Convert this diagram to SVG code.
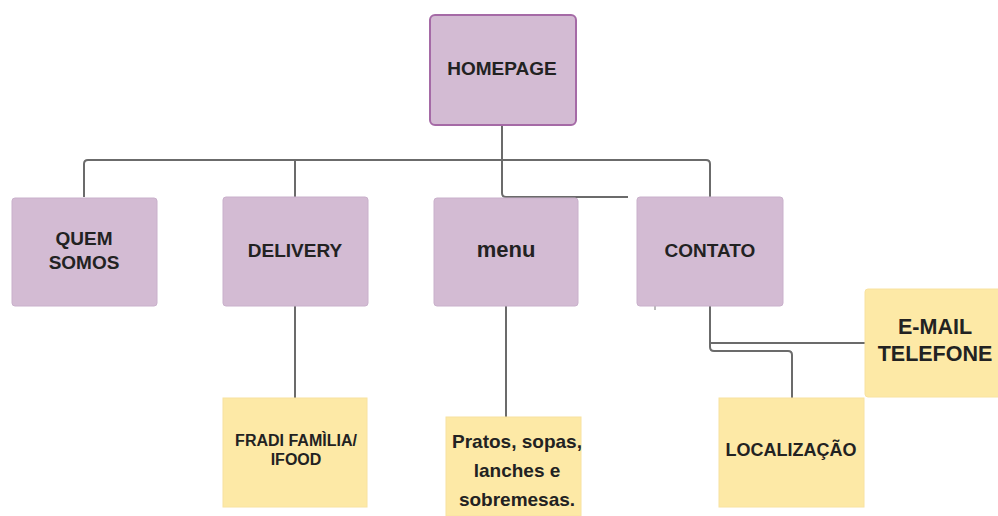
<svg xmlns="http://www.w3.org/2000/svg" width="998" height="516" viewBox="0 0 998 516">
<style>
.p{fill:#d3bbd3;stroke:#c9b0cb;stroke-width:1}
.h{fill:#d3bbd3;stroke:#a56aa6;stroke-width:2}
.y{fill:#fde9a6;stroke:#f8e2a0;stroke-width:1}
text{font-family:"Liberation Sans",Arial,sans-serif;font-weight:bold;fill:#222;text-anchor:middle}
.c{fill:none;stroke:#6b6b6b;stroke-width:2;stroke-linejoin:round}
</style>
<rect width="998" height="516" fill="#fff"/>
<g id="connectors">
<path class="c" d="M502,125 V160 M84,197 V164 Q84,160 88,160 H706 Q710,160 710,164 V197 M295,160 V197"/>
<path class="c" d="M502,160 V193 Q502,197 506,197 H628"/>
<path class="c" d="M295,306 V398"/>
<path class="c" d="M506,306 V417"/>
<path class="c" d="M710,306 V343 H865 M710,343 V347 Q710,351 714,351 H788 Q792,351 792,355 V398"/>
<path d="M655,306 V310" stroke="#777" stroke-width="1"/>
</g>
<g id="homepage"><rect class="h" x="430" y="15" width="146" height="110" rx="5"/><text x="502" y="75" font-size="19">HOMEPAGE</text></g>
<g id="quem-somos"><rect class="p" x="12" y="198" width="145" height="108" rx="3"/><text x="84" y="245" font-size="19">QUEM</text><text x="84" y="269" font-size="19">SOMOS</text></g>
<g id="delivery"><rect class="p" x="223" y="197" width="145" height="109" rx="3"/><text x="295" y="257" font-size="19">DELIVERY</text></g>
<g id="menu"><rect class="p" x="434" y="198" width="144" height="108" rx="3"/><text x="506" y="257" font-size="22">menu</text></g>
<g id="contato"><rect class="p" x="637" y="197" width="146" height="109" rx="3"/><text x="710" y="257" font-size="19">CONTATO</text></g>
<g id="fradi"><rect class="y" x="223" y="398" width="144" height="109"/><text x="296" y="446" font-size="16">FRADI FAMÌLIA/</text><text x="296" y="465" font-size="16">IFOOD</text></g>
<g id="pratos"><rect class="y" x="446" y="417" width="135" height="99"/><text x="517" y="448" font-size="19">Pratos, sopas,</text><text x="517" y="477" font-size="19">lanches e</text><text x="517" y="506" font-size="19">sobremesas.</text></g>
<g id="email"><rect class="y" x="865" y="289" width="140" height="108" rx="3"/><text x="935" y="334" font-size="21.5">E-MAIL</text><text x="935" y="361" font-size="21.5">TELEFONE</text></g>
<g id="localizacao"><rect class="y" x="719" y="398" width="145" height="109"/><text x="791" y="456" font-size="18">LOCALIZAÇÃO</text></g>
</svg>
